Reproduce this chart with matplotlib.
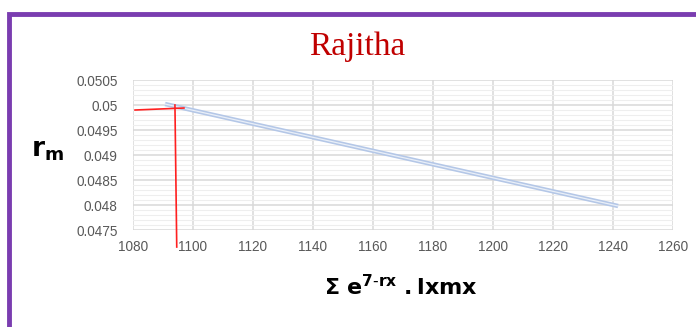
import matplotlib.pyplot as plt
from matplotlib.ticker import MultipleLocator
from matplotlib.patches import Rectangle

### data
x_vals = [1090.7, 1241.7]
y_vals = [0.05002, 0.04798]

# red guide lines drawn by hand on the chart
red_h_x = [1080.7, 1097.0]
red_h_y = [0.04990, 0.04994]
red_v_x = [1094.0, 1094.6]
red_v_y = [0.05000, 0.04716]

x_ticks = [1080, 1100, 1120, 1140, 1160, 1180, 1200, 1220, 1240, 1260]
y_ticks = [0.0475, 0.048, 0.0485, 0.049, 0.0495, 0.05, 0.0505]
y_labels = ['0.0475', '0.048', '0.0485', '0.049', '0.0495', '0.05', '0.0505']

fig = plt.figure(figsize=(6.96, 3.27), dpi=100)
ax = fig.add_axes([0.191, 0.2966, 0.776, 0.4587])

# purple frame around the slide
fig.patches.append(Rectangle((9 / 696, -0.1), 1.2, 1 - 14 / 327 + 0.1,
                             transform=fig.transFigure, fill=False,
                             edgecolor='#7a3db0', linewidth=3.5))

ax.plot(x_vals, y_vals, color='#b4c7e7', linewidth=3.2, solid_capstyle='butt', zorder=3)
ax.plot(x_vals, y_vals, color='#e9eff8', linewidth=0.9, zorder=4)
ax.plot(red_h_x, red_h_y, color='#ff2020', linewidth=1.2, zorder=5)
ax.plot(red_v_x, red_v_y, color='#ff2020', linewidth=1.2, zorder=5, clip_on=False)

ax.set_xlim(1080, 1260)
ax.set_ylim(0.0475, 0.0505)
ax.set_xticks(x_ticks)
ax.set_yticks(y_ticks)
ax.set_yticklabels(y_labels)
ax.yaxis.set_minor_locator(MultipleLocator(0.0001))

ax.grid(which='major', color='#d9d9d9', linewidth=1.1)
ax.grid(which='minor', axis='y', color='#eeeeee', linewidth=0.8)
ax.set_axisbelow(True)
for s in ax.spines.values():
    s.set_visible(False)
ax.tick_params(which='both', length=0, labelsize=9.8, labelcolor='#595959')
ax.tick_params(axis='y', pad=11)
ax.tick_params(axis='x', pad=7)
for lbl in ax.get_xticklabels() + ax.get_yticklabels():
    lbl.set_family('Liberation Sans')

fig.text(0.513, 0.858, 'Rajitha', ha='center', va='center', color='#c00000',
         fontsize=24, family='Liberation Serif')
fig.text(0.068, 0.54, r'$\mathbf{r_m}$', ha='center', va='center', fontsize=19,
         family='DejaVu Sans')
fig.text(0.576, 0.125, r'$\mathbf{\Sigma\ e^{7\text{-}rx}\ .lxmx}$', ha='center', va='center',
         fontsize=16)

plt.savefig('out.png', dpi=100)
